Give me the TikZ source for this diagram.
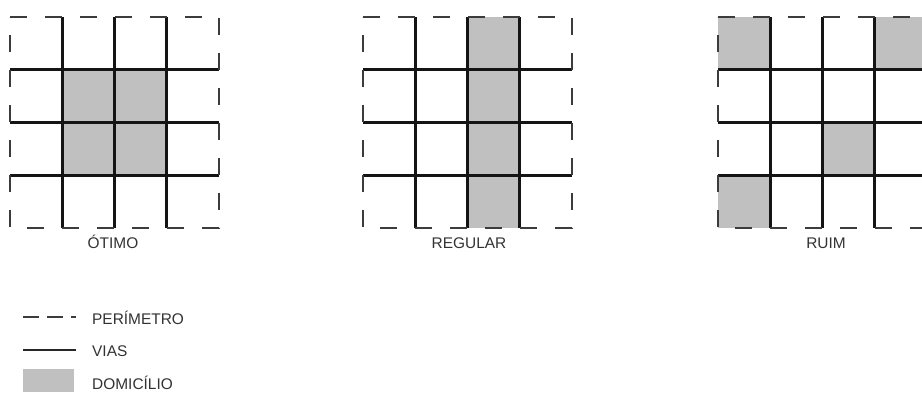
\documentclass[tikz,border=0pt]{standalone}
\usepackage{fontspec}
\setmainfont{Liberation Sans}
\usetikzlibrary{positioning}
\definecolor{cinzadom}{RGB}{192,192,192}
\definecolor{tracejado}{RGB}{60,60,60}
\definecolor{textocinza}{RGB}{50,50,50}

\begin{document}
\begin{tikzpicture}[
    x=1bp, y=-1bp,
    font=\fontsize{15.5}{18}\selectfont,
    via/.style={line width=2.7bp,black!92},
    perim/.style={line width=1.7bp,tracejado,dash pattern=on 17bp off 18bp},
    dom/.style={fill=cinzadom},
    rotulo/.style={anchor=base,inner sep=0pt,text=textocinza},
    legtxt/.style={anchor=base west,inner sep=0pt,text=textocinza},
    malha/.pic={
      \foreach \i in {1,2,3} {
        \draw[via] (\i,0) -- (\i,4);
        \draw[via] (0,\i) -- (4,\i);
      }
      \draw[perim] (0,0) -- (4,0) -- (4,4) -- (0,4) -- cycle;
    },
]
\useasboundingbox (0,0) rectangle (922,392);
\clip (0,0) rectangle (922,392);

% ---- otimo: domicilios no centro ----
\begin{scope}[shift={(10,17)},x=52.25bp,y=-52.75bp]
  \fill[dom] (1,1) rectangle (3,3);
  \pic {malha};
\end{scope}
\node[rotulo] (otimo) at (113,248) {ÓTIMO};

% ---- regular: faixa de domicilios ----
\begin{scope}[shift={(363,17)},x=52.25bp,y=-52.75bp]
  \fill[dom] (2,0) rectangle (3,4);
  \pic {malha};
\end{scope}
\node[rotulo] (regular) at (469,248) {REGULAR};

% ---- ruim: domicilios espalhados ----
\begin{scope}[shift={(718,17)},x=52.25bp,y=-52.75bp]
  \fill[dom] (0,0) rectangle (1,1);
  \fill[dom] (3,0) rectangle (4,1);
  \fill[dom] (2,2) rectangle (3,3);
  \fill[dom] (0,3) rectangle (1,4);
  \pic {malha};
\end{scope}
\node[rotulo] (ruim) at (826,248) {RUIM};

% ---- legenda ----
\draw[line width=1.7bp,tracejado,dash pattern=on 16bp off 8bp] (23,317) -- (76,317);
\node[legtxt] (lperim) at (92,324.5) {PERÍMETRO};
\draw[line width=1.8bp,black!85] (23,350) -- (76,350);
\node[legtxt] (lvias) at (92,356) {VIAS};
\fill[dom] (23,369) rectangle (74,392);
\node[legtxt] (ldom) at (92,389.5) {DOMICÍLIO};

\end{tikzpicture}
\end{document}
